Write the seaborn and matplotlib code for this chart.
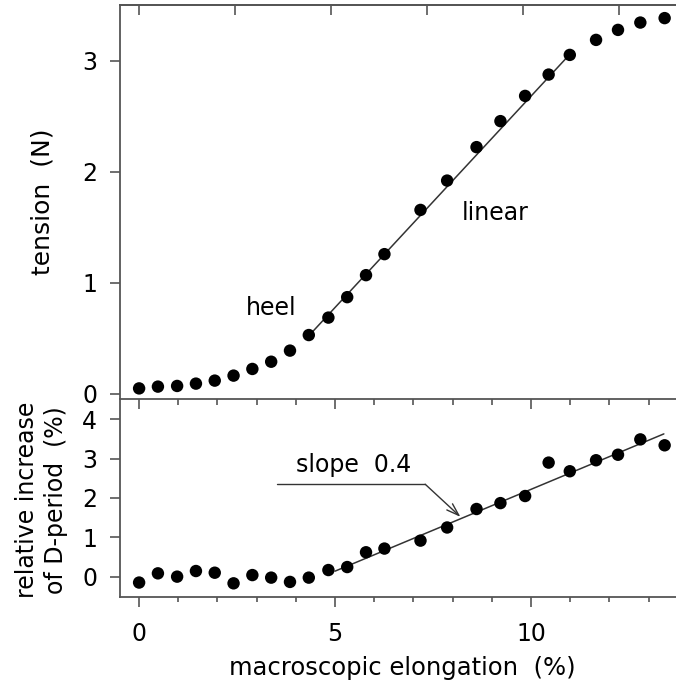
import numpy as np
import pandas as pd
import seaborn as sns
import matplotlib.pyplot as plt
from matplotlib.ticker import MultipleLocator

# elongation values (%) shared by both panels
elongation = [0, 0.48, 0.97, 1.45, 1.93, 2.41, 2.89, 3.37, 3.85, 4.33, 4.83, 5.31, 5.79,
              6.26, 7.18, 7.86, 8.61, 9.22, 9.85, 10.45, 10.99, 11.66, 12.22, 12.79, 13.41]
tension = [0.05, 0.066, 0.072, 0.093, 0.12, 0.165, 0.225, 0.29, 0.39, 0.53, 0.687, 0.871, 1.069,
           1.258, 1.656, 1.92, 2.221, 2.455, 2.682, 2.874, 3.051, 3.186, 3.276, 3.342, 3.382]
d_period = [-0.15, 0.084, 0.0, 0.143, 0.10, -0.17, 0.04, -0.025, -0.134, -0.025, 0.168, 0.244, 0.62,
            0.714, 0.916, 1.25, 1.72, 1.87, 2.05, 2.90, 2.68, 2.96, 3.10, 3.49, 3.34]

# straight fits drawn over the data
fit_top_x = [4.4, 11.0]
fit_top_y = [0.55, 3.06]
fit_bot_x = [5.0, 13.39]
fit_bot_y = [0.14, 3.63]

# leader line for the slope note
leader_x = [3.53, 7.30]
leader_y = [2.35, 2.35]
arrow_tip = (8.20, 1.52)

top_ticks = [0, 2.45, 4.9, 7.35, 9.8, 12.25]

sns.set_style('ticks')
plt.rcParams['font.family'] = ['DejaVu Sans']
plt.rcParams['text.color'] = 'black'
plt.rcParams['axes.labelcolor'] = 'black'
plt.rcParams['xtick.labelcolor'] = 'black'
plt.rcParams['ytick.labelcolor'] = 'black'

df = pd.DataFrame({'elong': elongation, 'tension': tension, 'dper': d_period})
fit_top = pd.DataFrame({'x': fit_top_x, 'y': fit_top_y})
fit_bot = pd.DataFrame({'x': fit_bot_x, 'y': fit_bot_y})

fig = plt.figure(figsize=(6.76, 6.85), dpi=100)
ax1 = fig.add_axes([0.1768, 0.4171, 0.8232, 0.5756])
ax2 = fig.add_axes([0.1768, 0.1289, 0.8232, 0.2882])
ax2.patch.set_visible(False)

spine_col = '#555555'
line_col = '#333333'

# --- top panel: tension
sns.lineplot(data=fit_top, x='x', y='y', ax=ax1, color=line_col, lw=1.1)
sns.scatterplot(data=df, x='elong', y='tension', ax=ax1, color='black', s=80,
                edgecolor='none', zorder=3)
ax1.set_xlim(-0.5, 13.70)
ax1.set_ylim(-0.048, 3.50)
ax1.set_yticks([0, 1, 2, 3])
ax1.xaxis.set_major_locator(MultipleLocator(5))
ax1.xaxis.set_minor_locator(MultipleLocator(1))
ax1.tick_params(axis='x', which='both', top=False, bottom=True, labelbottom=False,
                direction='out', color=spine_col, width=1.2)
ax1.tick_params(axis='x', which='major', length=7)
ax1.tick_params(axis='x', which='minor', length=4.3)
ax1.tick_params(axis='y', direction='out', length=7, width=1.2, color=spine_col,
                labelsize=17, pad=9)
sec = ax1.secondary_xaxis('top')
sec.set_xticks(top_ticks)
sec.tick_params(direction='in', length=7, width=1.2, color=spine_col, labeltop=False)
sec.spines['top'].set_color(spine_col)
sec.spines['top'].set_linewidth(1.3)
ax1.set_xlabel('')
ax1.set_ylabel('tension  (N)', fontsize=18)
ax1.yaxis.set_label_coords(-0.116, 0.5)
ax1.text(3.36, 0.77, 'heel', fontsize=17, ha='center', va='center')
ax1.text(9.09, 1.63, 'linear', fontsize=17, ha='center', va='center')

# --- bottom panel: D-period
sns.lineplot(data=fit_bot, x='x', y='y', ax=ax2, color=line_col, lw=1.1)
sns.scatterplot(data=df, x='elong', y='dper', ax=ax2, color='black', s=80,
                edgecolor='none', zorder=3)
ax2.set_xlim(-0.5, 13.70)
ax2.set_ylim(-0.51, 4.51)
ax2.set_yticks([0, 1, 2, 3, 4])
ax2.xaxis.set_major_locator(MultipleLocator(5))
ax2.xaxis.set_minor_locator(MultipleLocator(1))
ax2.tick_params(axis='x', which='both', top=False, direction='out', color=spine_col, width=1.2)
ax2.tick_params(axis='x', which='major', length=7, labelsize=17, pad=11)
ax2.tick_params(axis='x', which='minor', length=3.6)
ax2.tick_params(axis='y', direction='out', length=7, width=1.2, color=spine_col,
                labelsize=17, pad=9)
ax2.set_xlabel('macroscopic elongation  (%)', fontsize=17.5)
ax2.xaxis.set_label_coords(0.509, -0.30)
ax2.set_ylabel('relative increase\nof D-period  (%)', fontsize=17, linespacing=1.25)
ax2.yaxis.set_label_coords(-0.0925, 0.49)

ax2.plot(leader_x, leader_y, color=line_col, lw=1.0)
ax2.annotate('', xy=arrow_tip, xytext=(leader_x[1], leader_y[1]),
             arrowprops=dict(arrowstyle='->, head_length=0.9, head_width=0.3',
                             color=line_col, lw=1.0, shrinkA=0, shrinkB=0))
ax2.text(5.47, 2.83, 'slope  0.4', fontsize=17, ha='center', va='center')

for ax in (ax1, ax2):
    ax.spines['right'].set_visible(False)
    for side in ('left', 'bottom', 'top'):
        ax.spines[side].set_color(spine_col)
        ax.spines[side].set_linewidth(1.3)
ax2.spines['top'].set_visible(False)

fig.savefig('out.png', dpi=100)
